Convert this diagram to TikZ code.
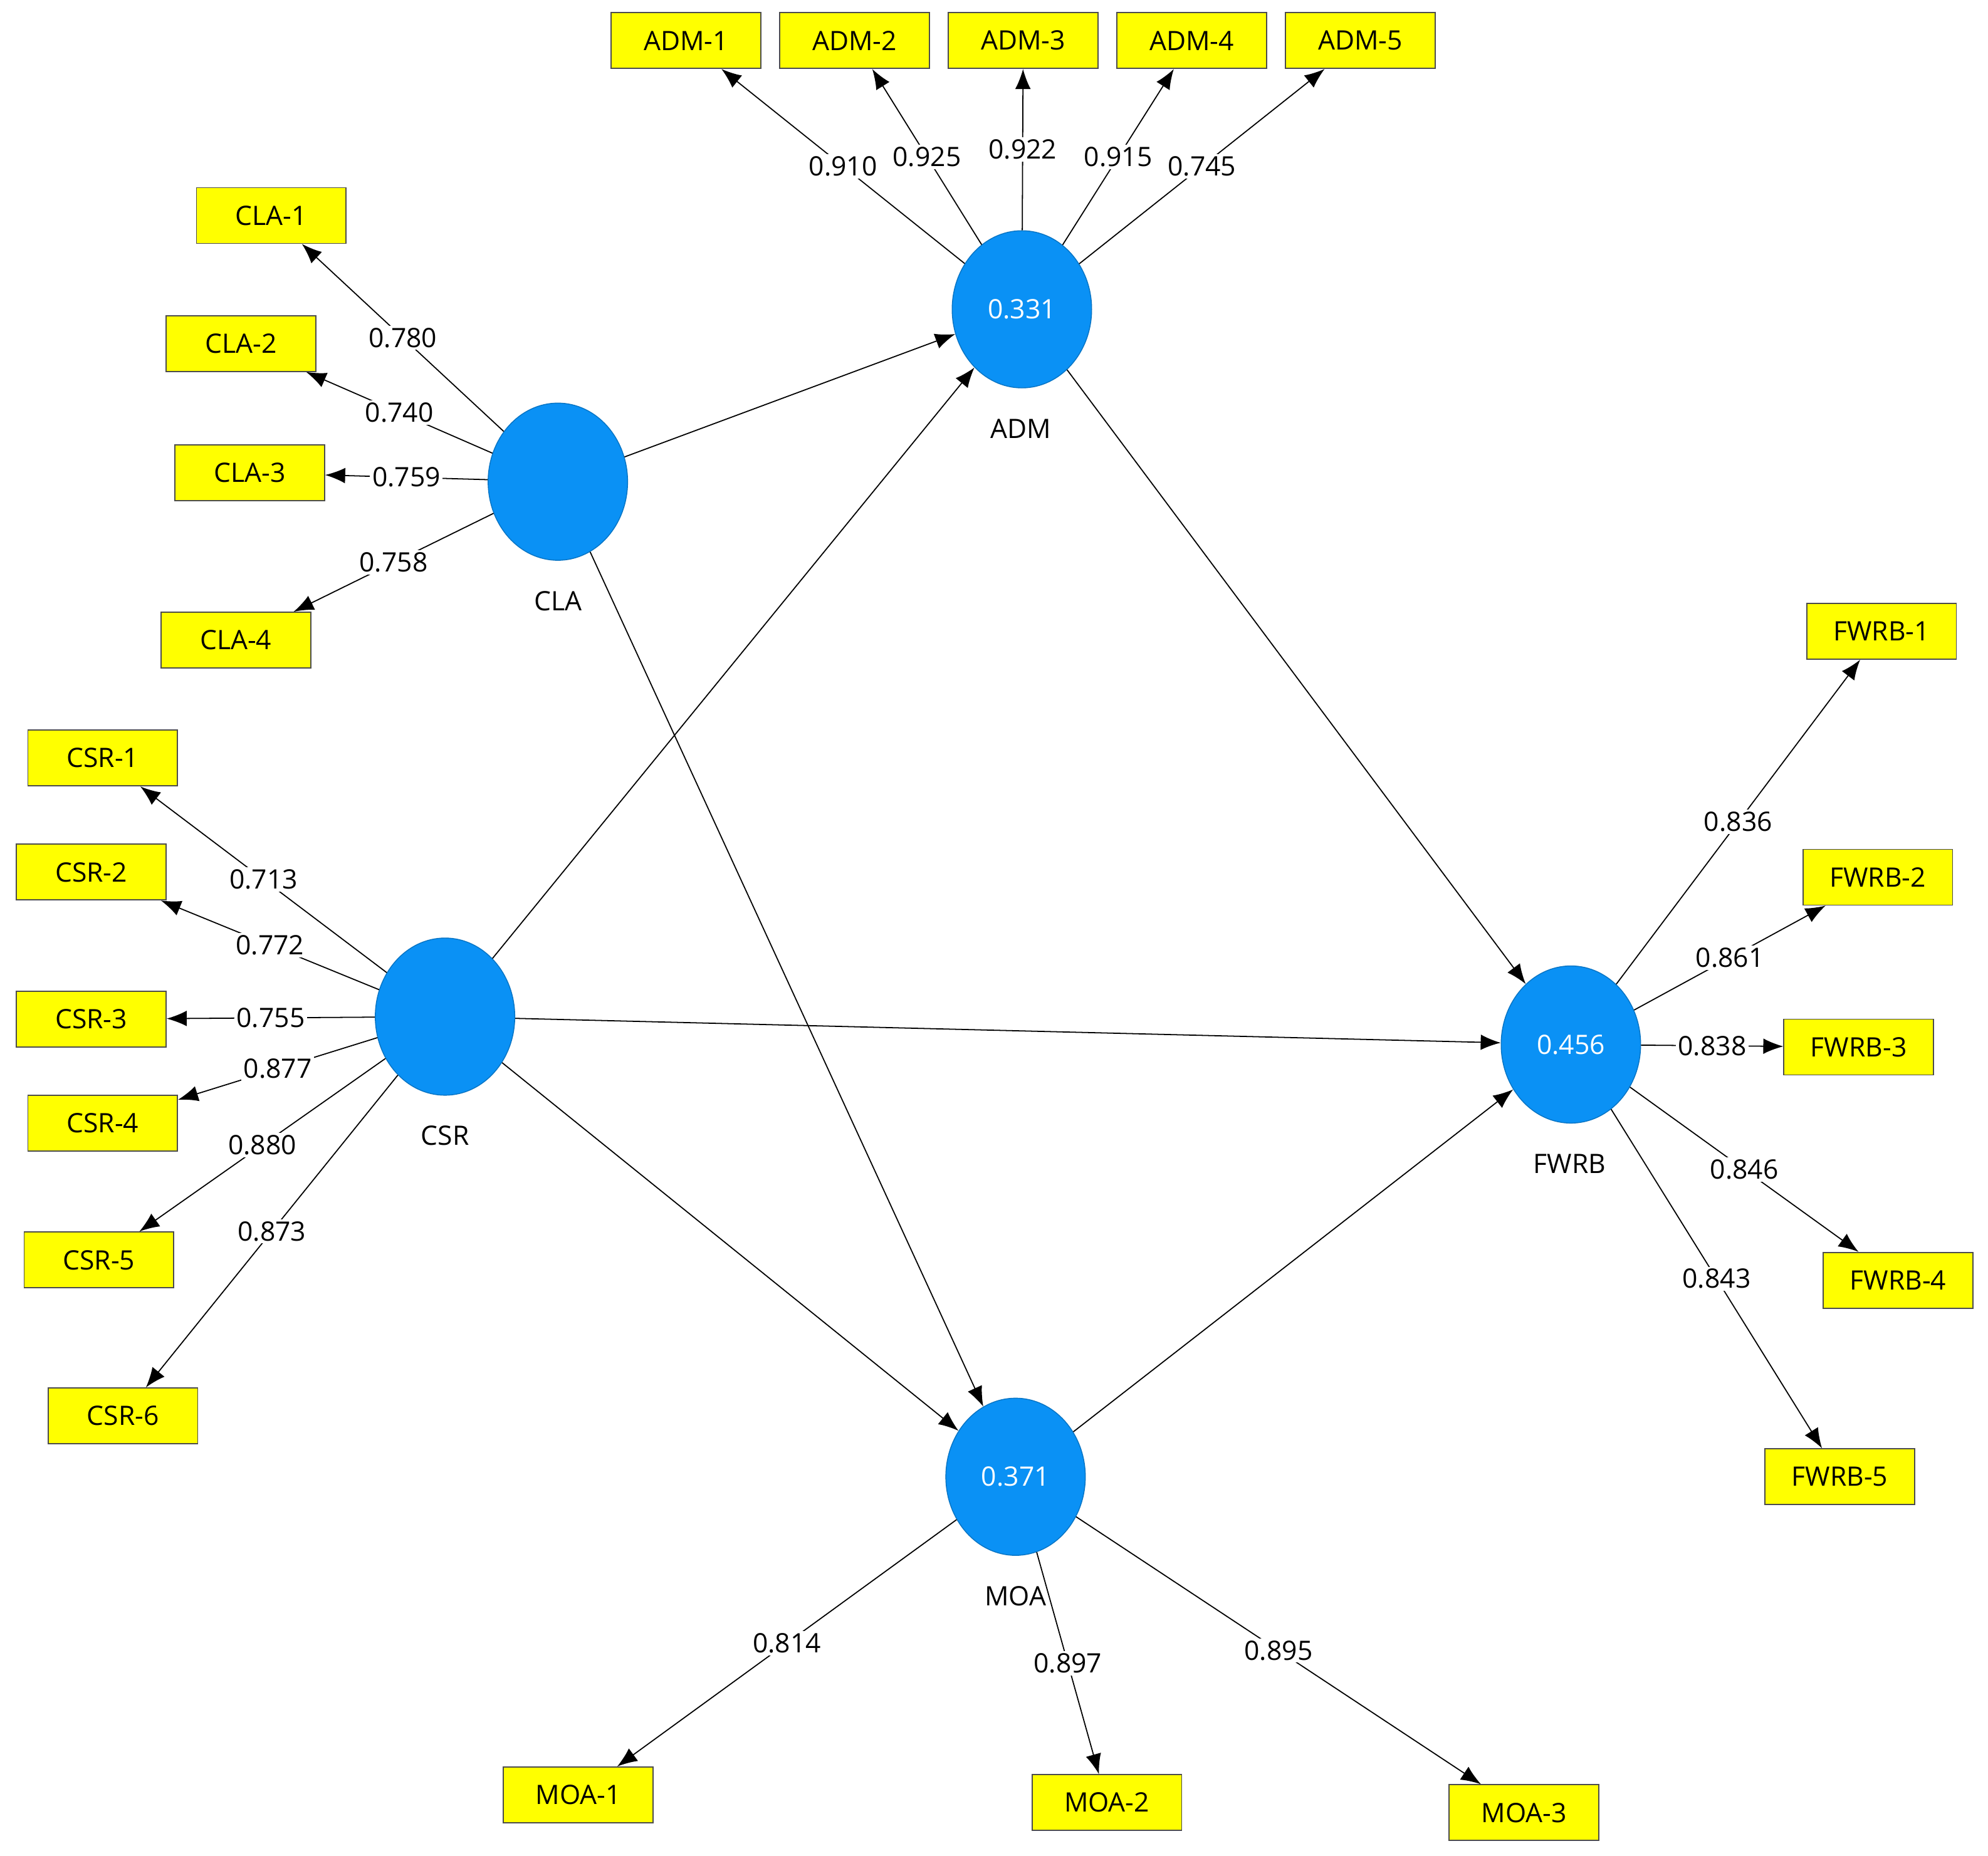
\documentclass[tikz,border=0pt]{standalone}
\usepackage{fontspec}
\setmainfont{Open Sans}
\usetikzlibrary{arrows.meta,shapes.geometric}
\definecolor{lv}{RGB}{10,145,245}
\definecolor{ind}{RGB}{255,255,0}
\begin{document}
\begin{tikzpicture}[x=0.02cm,y=-0.02cm,
  lat/.style={ellipse,fill=lv,draw=lv!80!black,line width=0.4pt,minimum width=110*0.02cm,minimum height=124*0.02cm,text=white,font=\fontsize{12}{14}\selectfont,inner sep=0pt},
  box/.style={rectangle,fill=ind,draw=black!70,line width=0.5pt,minimum width=118*0.02cm,minimum height=44*0.02cm,font=\fontsize{12}{14}\selectfont,inner sep=0pt},
  nm/.style={font=\fontsize{12}{14}\selectfont},
  ld/.style={-{Latex[length=9pt,width=7pt]},line width=0.5pt},
  lb/.style={fill=white,inner sep=1pt,font=\fontsize{12}{14}\selectfont,pos=0.5}]
\useasboundingbox (0,0) rectangle (1568,1464);
\node[lat] (ADM) at (806,244) {0.331};
\node[lat] (CLA) at (440,380) {};
\node[lat] (CSR) at (351,802) {};
\node[lat] (FWRB) at (1239,824) {0.456};
\node[lat] (MOA) at (801,1165) {0.371};
\node[nm] (tADM) at (805,338) {ADM};
\node[nm] (tCLA) at (440,474) {CLA};
\node[nm] (tCSR) at (351,896) {CSR};
\node[nm] (tFWRB) at (1238,918) {FWRB};
\node[nm] (tMOA) at (801,1259) {MOA};
\foreach \n/\x/\y in {ADM-1/541/32,ADM-2/674/32,ADM-3/807/32,ADM-4/940/32,ADM-5/1073/32,
 CLA-1/214/170,CLA-2/190/271,CLA-3/197/373,CLA-4/186/505,
 CSR-1/81/598,CSR-2/72/688,CSR-3/72/804,CSR-4/81/886,CSR-5/78/994,CSR-6/97/1117,
 FWRB-1/1484/498,FWRB-2/1481/692,FWRB-3/1466/826,FWRB-4/1497/1010,FWRB-5/1451/1165,
 MOA-1/456/1416,MOA-2/873/1422,MOA-3/1202/1430}
 \node[box] (\n) at (\x,\y) {\n};
\foreach \a/\b/\v in {ADM/ADM-1/0.910,ADM/ADM-2/0.925,ADM/ADM-3/0.922,ADM/ADM-4/0.915,ADM/ADM-5/0.745,
 CLA/CLA-1/0.780,CLA/CLA-2/0.740,CLA/CLA-3/0.759,CLA/CLA-4/0.758,
 CSR/CSR-1/0.713,CSR/CSR-2/0.772,CSR/CSR-3/0.755,CSR/CSR-4/0.877,CSR/CSR-5/0.880,CSR/CSR-6/0.873,
 FWRB/FWRB-1/0.836,FWRB/FWRB-2/0.861,FWRB/FWRB-3/0.838,FWRB/FWRB-4/0.846,FWRB/FWRB-5/0.843,
 MOA/MOA-1/0.814,MOA/MOA-2/0.897,MOA/MOA-3/0.895}
 \draw[ld] (\a) -- node[lb] {\v} (\b);
\draw[ld] (CLA) -- (ADM);
\draw[ld] (CSR) -- (ADM);
\draw[ld] (CLA) -- (MOA);
\draw[ld] (CSR) -- (MOA);
\draw[ld] (CSR) -- (FWRB);
\draw[ld] (ADM) -- (FWRB);
\draw[ld] (MOA) -- (FWRB);
\end{tikzpicture}
\end{document}
